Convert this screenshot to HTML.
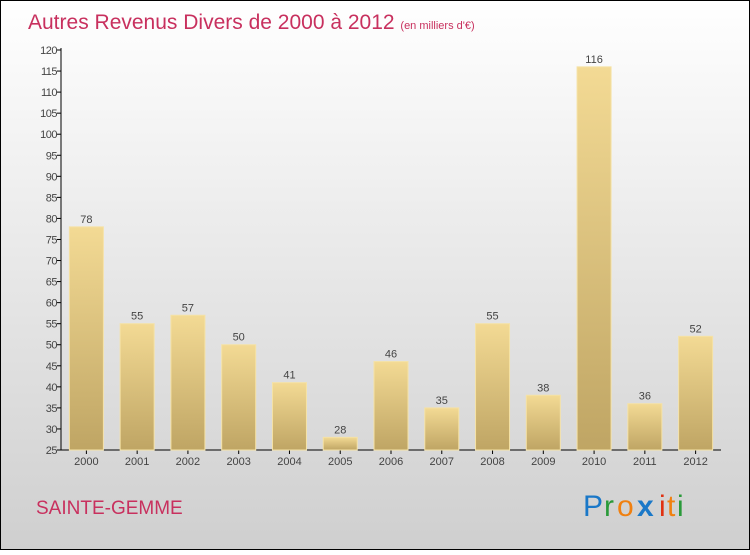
<!DOCTYPE html>
<html><head><meta charset="utf-8"><style>
body{margin:0}
#c{width:750px;height:550px;position:relative;font-family:"Liberation Sans",sans-serif}
</style></head><body>
<div id="c">
<svg width="750" height="550" xmlns="http://www.w3.org/2000/svg">
<defs>
<linearGradient id="bg" x1="0" y1="0" x2="0" y2="1"><stop offset="0" stop-color="#ffffff"/><stop offset="1" stop-color="#cfcfcf"/></linearGradient>
<linearGradient id="bar" x1="0" y1="0" x2="0" y2="1"><stop offset="0" stop-color="#f3da94"/><stop offset="1" stop-color="#bfa564"/></linearGradient>
</defs>
<rect x="0.5" y="0.5" width="749" height="549" fill="url(#bg)" stroke="#000"/>
<text x="28" y="29" font-size="21" fill="#c8305e">Autres Revenus Divers de 2000 à 2012 <tspan font-size="11">(en milliers d'€)</tspan></text>
<g id="axes"></g>
<g id="bars"></g>
<text x="36" y="514" font-size="19" fill="#c8305e">SAINTE-GEMME</text>
<g font-size="30">
<text x="583" y="516" fill="#1a78c8">P</text><text x="604" y="516" fill="#2a9a3a">r</text><text x="617" y="516" fill="#f08010">o</text><text x="637" y="516" fill="#1a78c8" font-weight="bold">x</text><text x="659" y="516" fill="#e03010">i</text><text x="667" y="516" fill="#f08010">t</text><text x="677" y="516" fill="#2a9a3a">i</text>
</g>
</svg>
</div>
<script>
const years=["2000","2001","2002","2003","2004","2005","2006","2007","2008","2009","2010","2011","2012"];
const values=[78,55,57,50,41,28,46,35,55,38,116,36,52];
const ticks=[25,30,35,40,45,50,55,60,65,70,75,80,85,90,95,100,105,110,115,120];
const NS="http://www.w3.org/2000/svg";
const y0=450,y1=50,vmin=25,vmax=120,xl=61,xr=721;
const y=v=>y0-(v-vmin)/(vmax-vmin)*(y0-y1);
const step=(xr-xl)/years.length;
const x=i=>xl+step*(i+0.5);
function mk(t,a,p){const e=document.createElementNS(NS,t);for(const k in a)e.setAttribute(k,a[k]);p.appendChild(e);return e;}
const ax=document.getElementById('axes'),bs=document.getElementById('bars');
const yl=mk('line',{x1:xl,y1:y1-2,x2:xl,y2:y0,stroke:'#000'},ax);


const xa=mk('line',{x1:xl,y1:y0,x2:xr,y2:y0,stroke:'#000'},ax);


ticks.forEach(t=>{
 mk('line',{x1:xl-4,y1:y(t),x2:xl,y2:y(t),stroke:'#000'},ax);
 const l=mk('text',{x:xl-4,y:y(t)+4,'text-anchor':'end','font-size':11,fill:'#444','letter-spacing':'-0.5'},ax);
 l.textContent=t;
 
 
});
years.forEach((yr,i)=>{
 const r=mk('rect',{x:x(i)-17,y:y(values[i]),width:34,height:y0-y(values[i]),fill:'url(#bar)',stroke:'#f5e2a6','stroke-width':1},bs);
 
 
 const v=mk('text',{x:x(i),y:y(values[i])-4,'text-anchor':'middle','font-size':11,fill:'#444'},bs);
 v.textContent=values[i];
 
 
 mk('line',{x1:x(i),y1:y0,x2:x(i),y2:y0+4,stroke:'#000'},ax);
 const l=mk('text',{x:x(i),y:y0+15,'text-anchor':'middle','font-size':11,fill:'#444'},ax);
 l.textContent=yr;
 
 
});
</script>
</body></html>
